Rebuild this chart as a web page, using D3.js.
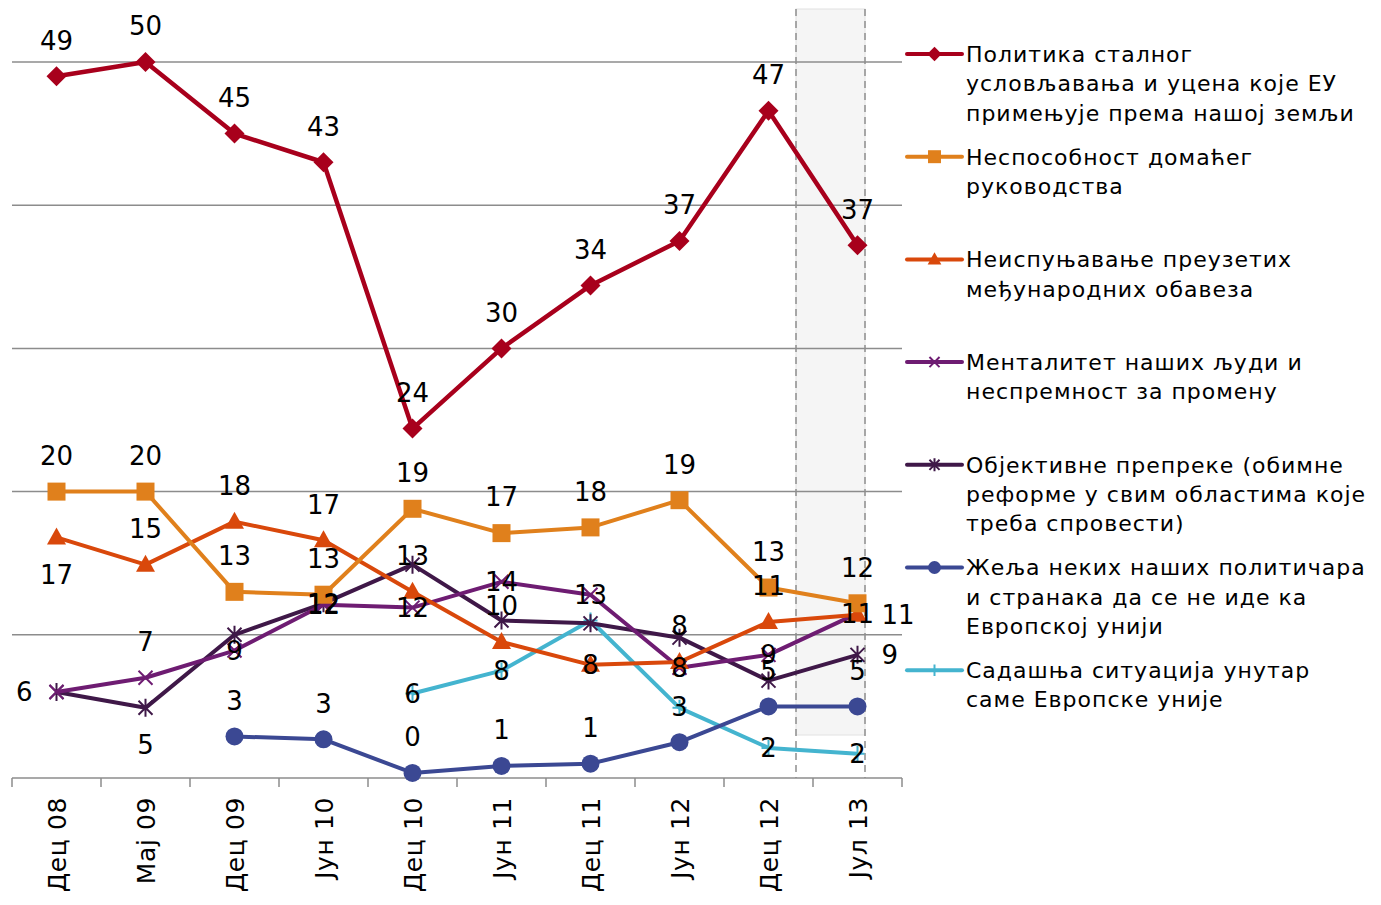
<!DOCTYPE html>
<html><head><meta charset="utf-8">
<script src="https://cdn.jsdelivr.net/npm/d3@7/dist/d3.min.js"></script>
<style>
html,body{margin:0;padding:0;background:#fff;}
svg{display:block;font-family:"DejaVu Sans",Verdana,sans-serif;}
</style></head>
<body><svg id="c" width="1381" height="905"></svg>
<script>
// ---------- DATA ----------
const categories = ["Дец 08","Мај 09","Дец 09","Јун 10","Дец 10","Јун 11","Дец 11","Јун 12","Дец 12","Јул 13"];
const yTicks = [0,10,20,30,40,50];

const seriesNames = [
  ["Политика сталног","условљавања и уцена које ЕУ","примењује према нашој земљи"],
  ["Неспособност домаћег","руководства"],
  ["Неиспуњавање преузетих","међународних обавеза"],
  ["Менталитет наших људи и","неспремност за промену"],
  ["Објективне препреке (обимне","реформе у свим областима које","треба спровести)"],
  ["Жеља неких наших политичара","и странака да се не иде ка","Европској унији"],
  ["Садашња ситуација унутар","саме Европске уније"]
];

const valuesPolitics   = [49.0, 50.0, 45.0, 43.0, 24.4, 30.0, 34.4, 37.5, 46.6, 37.2];
const valuesLeadership = [20.0, 20.0, 13.0, 12.8, 18.8, 17.1, 17.5, 19.4, 13.3, 12.2];
const valuesObligations= [16.8, 14.9, 17.9, 16.6, 13.0, 9.5, 7.9, 8.1, 10.9, 11.4];
const valuesMentality  = [6.0, 7.0, 8.9, 12.1, 11.9, 13.7, 12.8, 7.7, 8.6, 11.5];
const valuesObstacles  = [6.0, 4.9, 10.0, 12.2, 14.9, 11.0, 10.8, 9.8, 6.8, 8.6];
const valuesPoliticians= [null, null, 2.9, 2.7, 0.35, 0.84, 1.0, 2.5, 5.0, 5.0];
const valuesEUSituation= [null, null, null, null, 5.9, 7.5, 11.0, 4.9, 2.1, 1.7];

// data label texts as printed ("" = no label shown)
const labelsPolitics   = ["49","50","45","43","24","30","34","37","47","37"];
const labelsLeadership = ["20","20","13","13","19","17","18","19","13","12"];
const labelsObligations= ["17","15","18","17","13","10","8","8","11","11"];
const labelsMentality  = ["6","7","9","12","12","14","13","8","9","11"];
const labelsObstacles  = ["","5","","12","","","","","","9"];
const labelsPoliticians= ["","","3","3","0","1","1","3","5","5"];
const labelsEUSituation= ["","","","","6","8","","","2","2"];

// ---------- STYLE ----------
const colors = ["#a8001c","#e0801c","#d9480b","#6e1c72","#3f1848","#3b4893","#44b4cf"];
const markers = ["diamond","square","triangle","x","star","circle","plus"];
// label placement per point: t=top, b=bottom, c=center, l=left, r=right
const placement = [
  "tttttttttt",
  "tttttttttt",
  "btttttcttr",
  "ltcccccccc",
  "tbtctttttr",
  "tttttttttt",
  "cccccccccc"
];

const allValues = [valuesPolitics,valuesLeadership,valuesObligations,valuesMentality,valuesObstacles,valuesPoliticians,valuesEUSituation];
const allLabels = [labelsPolitics,labelsLeadership,labelsObligations,labelsMentality,labelsObstacles,labelsPoliticians,labelsEUSituation];

const svg = d3.select("#c");
const x = d3.scaleBand().domain(categories).range([12, 902]).padding(0);
const y = d3.scaleLinear().domain([0,50]).range([778, 62]);
const cx = c => x(c) + x.bandwidth()/2;

// shaded highlight of the last period
const lastBand = x(categories[categories.length-1]);
const shadeL = lastBand - 17, shadeR = lastBand + 52;
svg.append("rect").attr("x", shadeL).attr("y", 9).attr("width", shadeR - shadeL).attr("height", 735 - 9)
  .attr("fill", "#f5f5f5").attr("stroke", "#e2e2e2").attr("stroke-width", 1);

// gridlines
svg.append("g").selectAll("line").data(yTicks.filter(d => d > 0)).join("line")
  .attr("x1", 12).attr("x2", 902).attr("y1", d => y(d)).attr("y2", d => y(d))
  .attr("stroke", "#8c8c8c").attr("stroke-width", 1.5);

// dashed borders of highlight
[shadeL, shadeR].forEach(px => {
  svg.append("line").attr("x1", px).attr("x2", px).attr("y1", 9).attr("y2", 778)
    .attr("stroke", "#8f8f8f").attr("stroke-width", 1.5).attr("stroke-dasharray", "7,5");
});

// x axis
const xAxisG = svg.append("g").attr("transform", "translate(0,778)");
xAxisG.append("line").attr("x1", 12).attr("x2", 902).attr("stroke", "#8c8c8c").attr("stroke-width", 1.5);
const bounds = categories.map(c => x(c)).concat([902]);
xAxisG.selectAll("line.tk").data(bounds).join("line").attr("class","tk")
  .attr("x1", d => d).attr("x2", d => d).attr("y1", 0).attr("y2", 9)
  .attr("stroke", "#8c8c8c").attr("stroke-width", 1.5);
xAxisG.selectAll("text").data(categories).join("text")
  .attr("transform", d => `translate(${cx(d) + 9},19) rotate(-90)`)
  .attr("text-anchor", "end").attr("font-size", 25).attr("letter-spacing", 0.6).attr("fill", "#000")
  .text(d => d);

// marker drawing
function drawMarker(g, type, color, s) {
  switch (type) {
    case "diamond":
      g.append("path").attr("d", `M0,${-10*s}L${10*s},0L0,${10*s}L${-10*s},0Z`).attr("fill", color);
      break;
    case "square":
      g.append("rect").attr("x", -9*s).attr("y", -9*s).attr("width", 18*s).attr("height", 18*s).attr("fill", color);
      break;
    case "triangle":
      g.append("path").attr("d", `M0,${-10*s}L${9.5*s},${7*s}L${-9.5*s},${7*s}Z`).attr("fill", color);
      break;
    case "circle":
      g.append("circle").attr("r", 9*s).attr("fill", color);
      break;
    case "x":
      g.append("path").attr("d", `M${-7*s},${-7*s}L${7*s},${7*s}M${-7*s},${7*s}L${7*s},${-7*s}`)
        .attr("stroke", color).attr("stroke-width", 2);
      break;
    case "star":
      g.append("path").attr("d", `M${-7*s},${-7*s}L${7*s},${7*s}M${-7*s},${7*s}L${7*s},${-7*s}M0,${-9*s}L0,${9*s}`)
        .attr("stroke", color).attr("stroke-width", 2);
      break;
    case "plus":
      g.append("path").attr("d", `M${-7*s},0L${7*s},0M0,${-8*s}L0,${8*s}`)
        .attr("stroke", color).attr("stroke-width", 2);
      break;
  }
}

// lines
const lineGen = d3.line().defined(d => d.v !== null).x(d => cx(d.c)).y(d => y(d.v));
const drawOrder = [6,5,4,3,2,1,0];
drawOrder.forEach(i => {
  const pts = categories.map((c,j) => ({c, v: allValues[i][j]}));
  svg.append("path").datum(pts).attr("d", lineGen)
    .attr("fill","none").attr("stroke", colors[i]).attr("stroke-width", i===0 ? 4.5 : 4)
    .attr("stroke-linejoin","round");
  pts.filter(p => p.v !== null).forEach(p => {
    const g = svg.append("g").attr("transform", `translate(${cx(p.c)},${y(p.v)})`);
    drawMarker(g, markers[i], colors[i], 1);
  });
});

// data labels
const lblG = svg.append("g").attr("font-size", 26).attr("fill", "#000");
[0,1,2,3,4,5,6].forEach(i => {
  categories.forEach((c,j) => {
    const v = allValues[i][j], t = allLabels[i][j];
    if (v === null || !t) return;
    const p = placement[i][j];
    let px = cx(c), py = y(v), anchor = "middle";
    if (p === "t") py -= 36;
    else if (p === "b") py += 37;
    else if (p === "l") { px -= 24; anchor = "end"; }
    else if (p === "r") { px += 24; anchor = "start"; }
    lblG.append("text").attr("x", px).attr("y", py).attr("dy", "0.36em")
      .attr("text-anchor", anchor).text(t);
  });
});

// legend
const leg = svg.append("g").attr("font-size", 22).attr("letter-spacing", 1).attr("fill", "#000");
seriesNames.forEach((lines, i) => {
  const ly = 54 + i * 102.7;
  leg.append("line").attr("x1", 907).attr("x2", 962).attr("y1", ly).attr("y2", ly)
    .attr("stroke", colors[i]).attr("stroke-width", 4).attr("stroke-linecap","round");
  const g = leg.append("g").attr("transform", `translate(934.5,${ly})`);
  drawMarker(g, markers[i], colors[i], 0.72);
  const t = leg.append("text").attr("x", 966).attr("y", ly);
  lines.forEach((ln, k) => {
    t.append("tspan").attr("x", 966).attr("dy", k === 0 ? "0.36em" : 29.3).text(ln);
  });
});
</script></body></html>
